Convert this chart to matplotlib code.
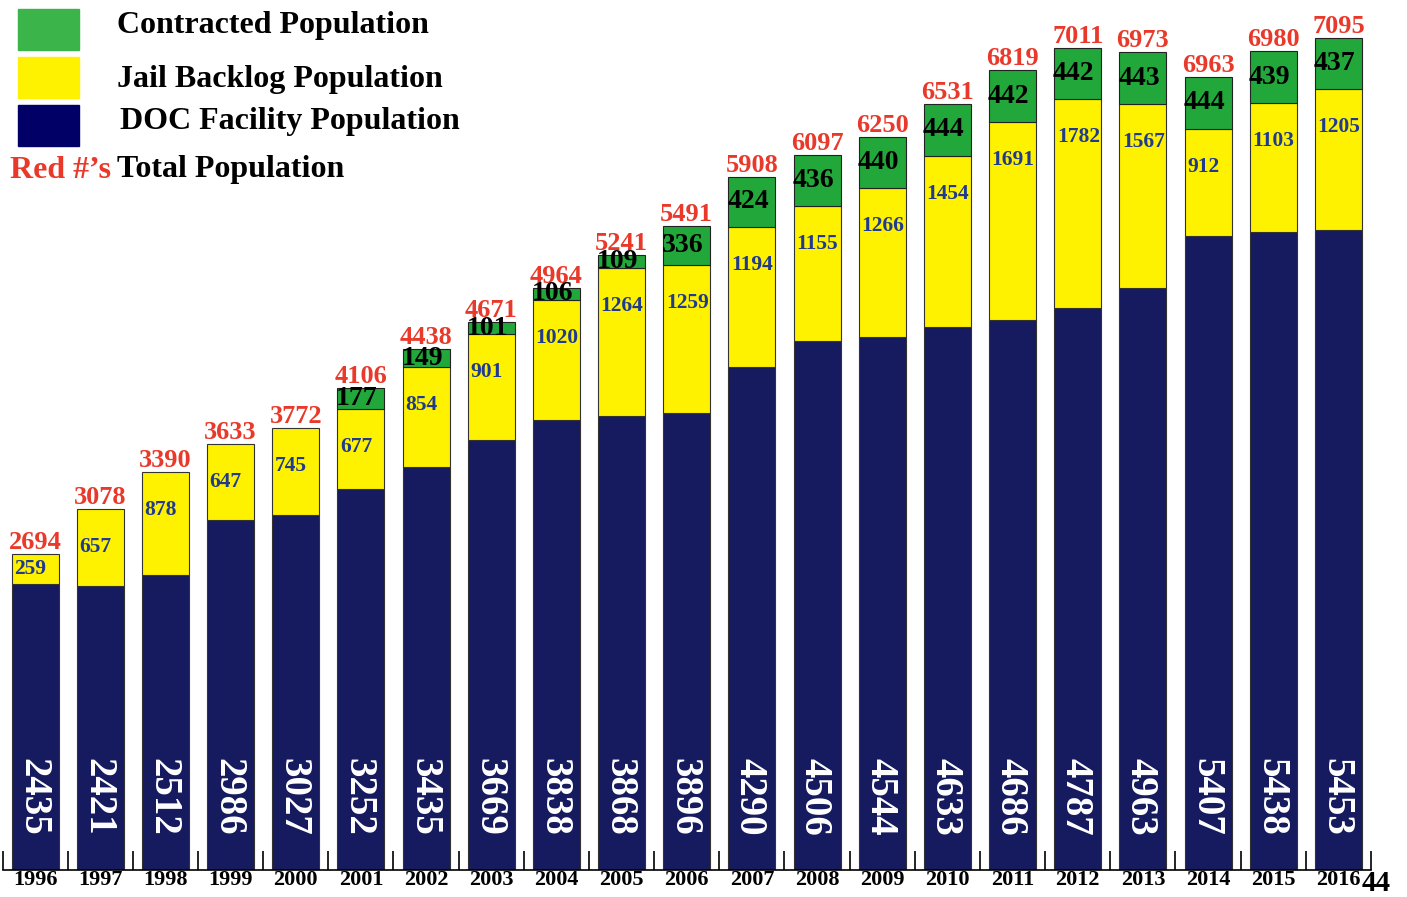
import matplotlib
matplotlib.use("Agg")
import matplotlib.pyplot as plt
import matplotlib.patches as mpatches
from matplotlib.transforms import blended_transform_factory
import numpy as np

years = ["1996", "1997", "1998", "1999", "2000", "2001", "2002", "2003", "2004", "2005", "2006",
         "2007", "2008", "2009", "2010", "2011", "2012", "2013", "2014", "2015", "2016"]
doc_pop = [2435, 2421, 2512, 2986, 3027, 3252, 3435, 3669, 3838, 3868, 3896,
           4290, 4506, 4544, 4633, 4686, 4787, 4963, 5407, 5438, 5453]
jail_pop = [259, 657, 878, 647, 745, 677, 854, 901, 1020, 1264, 1259,
            1194, 1155, 1266, 1454, 1691, 1782, 1567, 912, 1103, 1205]
contract_pop = [0, 0, 0, 0, 0, 177, 149, 101, 106, 109, 336,
                424, 436, 440, 444, 442, 442, 443, 444, 439, 437]
total_labels = ["2694", "3078", "3390", "3633", "3772", "4106", "4438", "4671", "4964", "5241", "5491",
                "5908", "6097", "6250", "6531", "6819", "7011", "6973", "6963", "6980", "7095"]

C_NAVY = "#161a5e"
C_YEL = "#fff200"
C_GRN = "#22a83a"
C_RED = "#e8392a"
C_LBL_BLUE = "#1f3a8f"

FONT = "Liberation Serif"
plt.rcParams["font.family"] = [FONT, "DejaVu Serif"]

W, H = 1407, 897
fig = plt.figure(figsize=(W / 100, H / 100), dpi=100)
ax = fig.add_axes([2.5 / W, (H - 870) / H, (1371 - 2.5) / W, 870 / H])

x = np.arange(len(years))
doc = np.array(doc_pop)
jail = np.array(jail_pop)
con = np.array(contract_pop)
bw = 0.72

ax.bar(x, doc, bw, color=C_NAVY, edgecolor="#333333", linewidth=0.8)
ax.bar(x, jail, bw, bottom=doc, color=C_YEL, edgecolor="#333333", linewidth=0.8)
mask = con > 0
ax.bar(x[mask], con[mask], bw, bottom=(doc + jail)[mask], color=C_GRN, edgecolor="#222222", linewidth=0.8)

ax.set_xlim(-0.5, len(years) - 0.5)
ax.set_ylim(0, 7417)

px = 7417 / 870.0  # data units per pixel
trans = blended_transform_factory(ax.transData, ax.transAxes)

for i in range(len(years)):
    left = x[i] - bw / 2
    top = doc[i] + jail[i] + con[i]
    # totals
    ax.text(x[i], top, total_labels[i], ha="center", va="bottom",
            color=C_RED, fontsize=19, fontweight="bold")
    # contracted
    if con[i] > 0:
        cm = doc[i] + jail[i] + con[i] / 2
        ax.text(left - 0.02, cm, str(con[i]), ha="left", va="center",
                color="black", fontsize=20, fontweight="bold")
    # jail
    jt = doc[i] + jail[i]
    jy = jt - min(38 * px, jail[i] / 2)
    ax.text(left + 0.04, jy, str(jail[i]), ha="left", va="center",
            color=C_LBL_BLUE, fontsize=15.5, fontweight="bold")
    # doc
    ax.text(x[i] - 0.04, 0.084, str(doc[i]), transform=trans, ha="center", va="center",
            rotation=-90, color="white", fontsize=28, fontweight="bold")

for s in ["left", "right", "top"]:
    ax.spines[s].set_visible(False)
ax.spines["bottom"].set_linewidth(1.2)
ax.set_yticks([])
ax.set_xticks(x)
ax.set_xticklabels(years, fontsize=16, fontweight="bold")
ax.tick_params(axis="x", which="major", length=0, pad=0)
ax.set_xticks(np.arange(-0.5, len(years), 1.0), minor=True)
ax.tick_params(axis="x", which="minor", direction="in", length=14, width=1.2, color="black")

# legend (manual)
def fx(p):
    return p / W
def fy(p):
    return 1 - p / H

legend_items = [
    (9, 50, "#3bb54a", "Contracted Population", 117, 25),
    (57, 98, "#fff200", "Jail Backlog Population", 117, 79),
    (105, 146, "#000066", "DOC Facility Population", 120, 121),
]
for (y0, y1, col, label, tx, ty) in legend_items:
    fig.patches.append(mpatches.Rectangle((fx(18), fy(y1)), fx(79) - fx(18), fy(y0) - fy(y1),
                                          transform=fig.transFigure, color=col, zorder=5))
    fig.text(fx(tx), fy(ty), label, ha="left", va="center", fontsize=23, fontweight="bold", color="black")

fig.text(fx(10), fy(171), "Red #\u2019s", ha="left", va="center", fontsize=23, fontweight="bold", color=C_RED)
fig.text(fx(117), fy(169), "Total Population", ha="left", va="center", fontsize=23, fontweight="bold", color="black")

fig.text(fx(1362), fy(883), "44", ha="left", va="center", fontsize=21, fontweight="bold", color="black")

fig.savefig("out.png", dpi=100)
